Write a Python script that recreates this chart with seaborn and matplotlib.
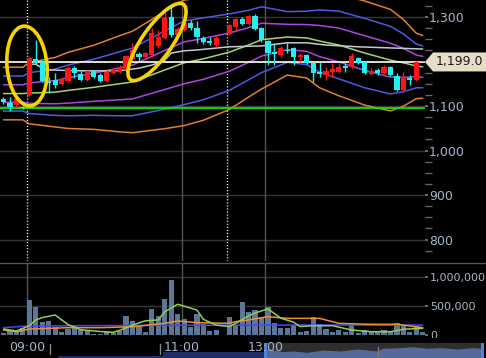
import matplotlib
matplotlib.use("Agg")
import matplotlib.pyplot as plt
import numpy as np
import seaborn as sns
from matplotlib.patches import Rectangle, Polygon, Ellipse
from matplotlib.ticker import MultipleLocator

# ---------------- data ----------------
bar_index = list(range(66))
opens  = [1116, 1107, 1102, 1097, 1125, 1206, 1199, 1156, 1158, 1149,
          1156, 1185, 1172, 1158, 1179, 1170, 1156, 1174, 1176, 1181,
          1206, 1217, 1210, 1215, 1235, 1253, 1300, 1260, 1271, 1287,
          1275, 1253, 1246, 1237, 1252, 1262, 1278, 1296, 1284, 1302,
          1275, 1246, 1221, 1215, 1226, 1230, 1210, 1215, 1197, 1176,
          1170, 1176, 1176, 1190, 1188, 1208, 1199, 1172, 1181, 1174,
          1188, 1167, 1136, 1163, 1158, 1199]
highs  = [1120, 1120, 1120, 1099, 1212, 1248, 1203, 1165, 1174, 1165,
          1190, 1190, 1179, 1181, 1181, 1174, 1181, 1185, 1192, 1215,
          1242, 1221, 1221, 1275, 1271, 1311, 1322, 1278, 1293, 1293,
          1291, 1257, 1255, 1257, 1253, 1284, 1298, 1300, 1305, 1307,
          1278, 1248, 1242, 1235, 1242, 1233, 1219, 1217, 1199, 1199,
          1188, 1197, 1197, 1197, 1219, 1210, 1201, 1185, 1185, 1192,
          1190, 1174, 1176, 1170, 1201, 1199]
lows   = [1104, 1089, 1098, 1093, 1122, 1194, 1154, 1129, 1140, 1147,
          1154, 1163, 1156, 1156, 1163, 1154, 1154, 1172, 1174, 1179,
          1203, 1201, 1208, 1212, 1230, 1251, 1255, 1257, 1269, 1271,
          1242, 1239, 1237, 1233, 1252, 1260, 1271, 1282, 1282, 1271,
          1244, 1192, 1192, 1210, 1219, 1192, 1199, 1194, 1154, 1165,
          1158, 1165, 1174, 1176, 1185, 1194, 1172, 1170, 1170, 1172,
          1167, 1134, 1134, 1147, 1156, 1199]
closes = [1109, 1098, 1116, 1095, 1208, 1197, 1156, 1152, 1147, 1161,
          1185, 1174, 1158, 1179, 1165, 1156, 1176, 1181, 1188, 1212,
          1226, 1210, 1219, 1264, 1255, 1298, 1260, 1273, 1287, 1275,
          1255, 1244, 1242, 1253, 1252, 1282, 1296, 1284, 1302, 1273,
          1248, 1219, 1217, 1230, 1224, 1210, 1215, 1197, 1174, 1172,
          1179, 1183, 1188, 1185, 1212, 1197, 1174, 1179, 1174, 1188,
          1170, 1136, 1165, 1158, 1199, 1199]
volumes = [40, 69, 57, 126, 598, 483, 230, 241, 132, 52,
           103, 160, 86, 75, 23, 23, 69, 40, 69, 328,
           241, 172, 57, 443, 328, 615, 948, 356, 270, 132,
           362, 190, 69, 92, 3, 305, 172, 569, 402, 431,
           316, 488, 201, 115, 115, 172, 46, 69, 316, 190,
           103, 57, 86, 57, 172, 40, 86, 46, 46, 86,
           46, 213, 155, 57, 161, 57]
volumes = [v * 1000 for v in volumes]

# Bollinger band centre and sigma
band_index = [0, 3, 4, 8, 10, 14, 18, 20, 23, 25, 28, 31, 35, 38, 40, 44, 47, 49, 52, 56, 60, 62, 64, 65]
band_mid   = [1128, 1128, 1129, 1131, 1135, 1142, 1150, 1154, 1170, 1181, 1197, 1206,
              1221, 1237, 1249, 1255, 1253, 1246, 1237, 1219, 1203, 1197, 1190, 1188]
band_sigma = [19.7, 19.7, 23, 26, 28.5, 31.5, 36, 38, 41.5, 44, 47, 46,
              43, 39, 37, 28.5, 30, 35, 38, 39, 38, 32.5, 24.5, 23.5]

vwap_index = [4, 5, 6, 7, 12, 17, 19, 21, 23, 24, 25, 26, 28, 30, 35, 40, 44, 47, 50, 55, 61, 65]
vwap       = [1194, 1194, 1185, 1181, 1179, 1179, 1181, 1185, 1192, 1197, 1203, 1219,
              1224, 1226, 1233, 1235, 1242, 1242, 1237, 1233, 1230, 1228]

last_price = 1199.0
prev_close = 1095
price_ticks = [800, 900, 1000, 1100, 1300]
price_labels = ["800", "900", "1,000", "1,100", "1,300"]

vol_ma_short_index = [0, 2, 4, 5, 6, 8, 10, 12, 15, 17, 18, 20, 22, 24, 25, 27, 30, 31, 33, 35,
                      36, 38, 39, 41, 43, 45, 46, 48, 51, 54, 57, 60, 62, 65]
vol_ma_short = [103, 69, 160, 260, 300, 345, 180, 90, 60, 46, 80, 170, 245, 260, 400, 530, 430, 270, 170, 145,
                200, 330, 380, 450, 290, 220, 145, 160, 160, 86, 57, 57, 100, 115]
vol_ma_mid_index = [0, 2, 4, 10, 15, 20, 25, 27, 30, 35, 36, 38, 41, 44, 49, 52, 57, 61, 65]
vol_ma_mid = [86, 57, 103, 126, 126, 143, 201, 241, 213, 201, 230, 259, 316, 287, 287, 201, 184, 184, 126]
vol_ma_long_index = [0, 3, 10, 30, 40, 65]
vol_ma_long = [126, 150, 160, 168, 172, 172]
vol_ticks = [0, 500000, 1000000]
vol_labels = ["0", "500,000", "1,000,000"]

time_pos = [3.6, 27.7, 40.6]
time_labels = ["09:00", "11:00", "13:00"]
session_breaks = [3.6, 34.65]      # dotted white lines

nav_hist_x = [0.0, 0.245, 0.484]
nav_hist_h = [0.13, 0.37, 0.37]
nav_sel_x = [0.486, 0.491, 0.526, 0.549, 0.582, 0.619, 0.659, 0.699, 0.745, 0.759,
             0.799, 0.829, 0.862, 0.893, 0.932, 0.970, 0.990]
nav_sel_h = [0.6, 0.6, 0.42, 0.47, 0.38, 0.53, 0.47, 0.6, 0.47, 0.65,
             0.69, 0.75, 0.65, 0.69, 0.6, 0.69, 0.65]
nav_window = (0.484, 0.991)

# hand-drawn highlight loops (pixel space: centre, width, height, angle)
highlight_loops = [((27, 66), 80, 40, 85), ((157, 42), 92, 30, -55)]

# ---------------- styling ----------------
sns.set_theme(style="dark", rc={"axes.facecolor": "black", "figure.facecolor": "black"})
plt.rcParams["font.family"] = ["DejaVu Sans"]

RED, CYAN = "#ff1414", "#22f0f0"
LBL = "#a6b5c6"
GRID = "#363636"
VGRID = "#555555"

W, H = 486, 358
fig = plt.figure(figsize=(W / 100, H / 100), dpi=100)
fig.patch.set_facecolor("black")

def box(x0, y0, x1, y1):
    return [x0 / W, 1 - y1 / H, (x1 - x0) / W, (y1 - y0) / H]

PX = 6.45
x_left = -0.54
x_right = x_left + 425 / PX

axn = fig.add_axes(box(58, 343, 486, 358)); axn.set_zorder(0)
ax = fig.add_axes(box(0, 0, 425, 261)); ax.set_zorder(1)
axv = fig.add_axes(box(0, 263, 425, 335)); axv.set_zorder(1)
ov = fig.add_axes([0, 0, 1, 1]); ov.set_zorder(5)

for a in (ax, axv, axn):
    a.set_facecolor("black")
    for s in a.spines.values():
        s.set_visible(False)
    a.grid(False)

# ---------------- price panel ----------------
ax.set_xlim(x_left, x_right)
ax.set_ylim(751.7, 1338.2)
for lv in price_ticks:
    ax.axhline(lv, color=GRID, lw=1, zorder=1)
ax.axvline(time_pos[1], color=VGRID, lw=1, zorder=1)
ax.axvline(time_pos[2], color=VGRID, lw=1, zorder=1)
for xb in session_breaks:
    ax.axvline(xb, color="white", lw=1, ls=(0, (0.8, 1.4)), zorder=1.5)

mid = np.array(band_mid, dtype=float)
sig = np.array(band_sigma, dtype=float)
band_styles = [(3, "#e07f30"), (2, "#5058e6"), (1, "#ad45e2")]
for k, col in band_styles:
    sns.lineplot(x=band_index, y=mid + k * sig, ax=ax, color=col, lw=1.1, zorder=2)
    sns.lineplot(x=band_index, y=mid - k * sig, ax=ax, color=col, lw=1.1, zorder=2)
sns.lineplot(x=band_index, y=mid, ax=ax, color="#a6d468", lw=1.1, zorder=2)
sns.lineplot(x=vwap_index, y=vwap, ax=ax, color="#c4cace", lw=1.1, zorder=2)

ax.axhline(last_price, color="#f2f0e2", lw=1.3, zorder=2.5)
ax.axhline(prev_close, color="#00ee00", lw=1.3, zorder=2.5)

o = np.array(opens, float); c = np.array(closes, float)
hi = np.array(highs, float); lo = np.array(lows, float)
cols = np.where(c > o, RED, CYAN)
ax.vlines(bar_index, lo, hi, colors=cols, lw=1, zorder=3)
ax.bar(bar_index, np.maximum(np.abs(c - o), 1.6), bottom=np.minimum(o, c),
       width=0.8, color=cols, lw=0, zorder=4)

ax.yaxis.tick_right()
ax.set_yticks(price_ticks, price_labels)
ax.yaxis.set_minor_locator(MultipleLocator(25))
ax.tick_params(axis="y", which="major", length=2, pad=1, labelsize=9,
               labelcolor=LBL, color="#777777", right=True, left=False)
ax.tick_params(axis="y", which="minor", length=5, color="#666666", right=True, left=False)
ax.set_xticks([])
ax.set_xlabel(""); ax.set_ylabel("")

# ---------------- volume panel ----------------
sns.barplot(x=bar_index, y=volumes, ax=axv, native_scale=True, color="#5c7698",
            saturation=1, width=0.8, errorbar=None, lw=0, zorder=2)
sns.lineplot(x=vol_ma_long_index, y=[v * 1000 for v in vol_ma_long], ax=axv,
             color="#4646ff", lw=1.1, zorder=3)
sns.lineplot(x=vol_ma_mid_index, y=[v * 1000 for v in vol_ma_mid], ax=axv,
             color="#f0902c", lw=1.1, zorder=3)
sns.lineplot(x=vol_ma_short_index, y=[v * 1000 for v in vol_ma_short], ax=axv,
             color="#8fd14f", lw=1.1, zorder=3)
axv.set_xlim(x_left, x_right)
axv.set_ylim(0, (335 - 263) * 500000 / 29)
for lv in vol_ticks[1:]:
    axv.axhline(lv, color=GRID, lw=1, zorder=1)
for xp in time_pos:
    axv.axvline(xp, color=VGRID, lw=1, zorder=1)
axv.yaxis.tick_right()
axv.set_yticks(vol_ticks, vol_labels)
axv.tick_params(axis="y", length=2, pad=1.5, labelsize=8, labelcolor=LBL,
                color="#777777", right=True, left=False)
axv.set_xticks(time_pos, time_labels)
axv.tick_params(axis="x", length=0, pad=4, labelsize=9, labelcolor=LBL, bottom=True)
axv.set_xlabel(""); axv.set_ylabel("")

# ---------------- navigator ----------------
axn.set_xlim(0, 1); axn.set_ylim(0, 1)
axn.set_xticks([]); axn.set_yticks([])
axn.fill_between(nav_hist_x, 0, nav_hist_h, step="post", color="#202d66", lw=0)
axn.axvspan(nav_window[0], nav_window[1], color="#2e2e2e", lw=0)
axn.fill_between(nav_sel_x, 0, nav_sel_h, color="#56699a", lw=0)
axn.axvline(0.748, ymin=0.07, ymax=0.73, color="#777777", lw=1)
for xh in nav_window:
    axn.axvspan(xh - 0.0035, xh + 0.0035, color="#4d84dd", lw=0)

# ---------------- overlay (separators, tag, highlights) ----------------
ov.set_xlim(0, W); ov.set_ylim(H, 0); ov.axis("off")
ov.patch.set_alpha(0)
ov.plot([0, W], [262.5, 262.5], color="#555555", lw=1)
for xs in (50, 160):
    ov.plot([xs, xs], [344, 354], color="#888888", lw=1)
ov.add_patch(Rectangle((426, 337.5), 60, 5.5, fc="black", ec="none"))

yc = H - ax.transData.transform((0, last_price))[1]
ov.add_patch(Polygon([(425, yc), (433, yc - 9.5), (486, yc - 9.5), (486, yc + 9.5), (433, yc + 9.5)],
                     closed=True, fc="#e8dec8", ec="none"))
ov.text(459.5, yc, f"{last_price:,.1f}", ha="center", va="center", fontsize=9, color="#1a1a1a")

for (cx, cy), w, h, ang in highlight_loops:
    ov.add_patch(Ellipse((cx, cy), w, h, angle=ang, fill=False, ec="#f7d400", lw=2.6))

fig.savefig("out.png", dpi=100, facecolor="black")
